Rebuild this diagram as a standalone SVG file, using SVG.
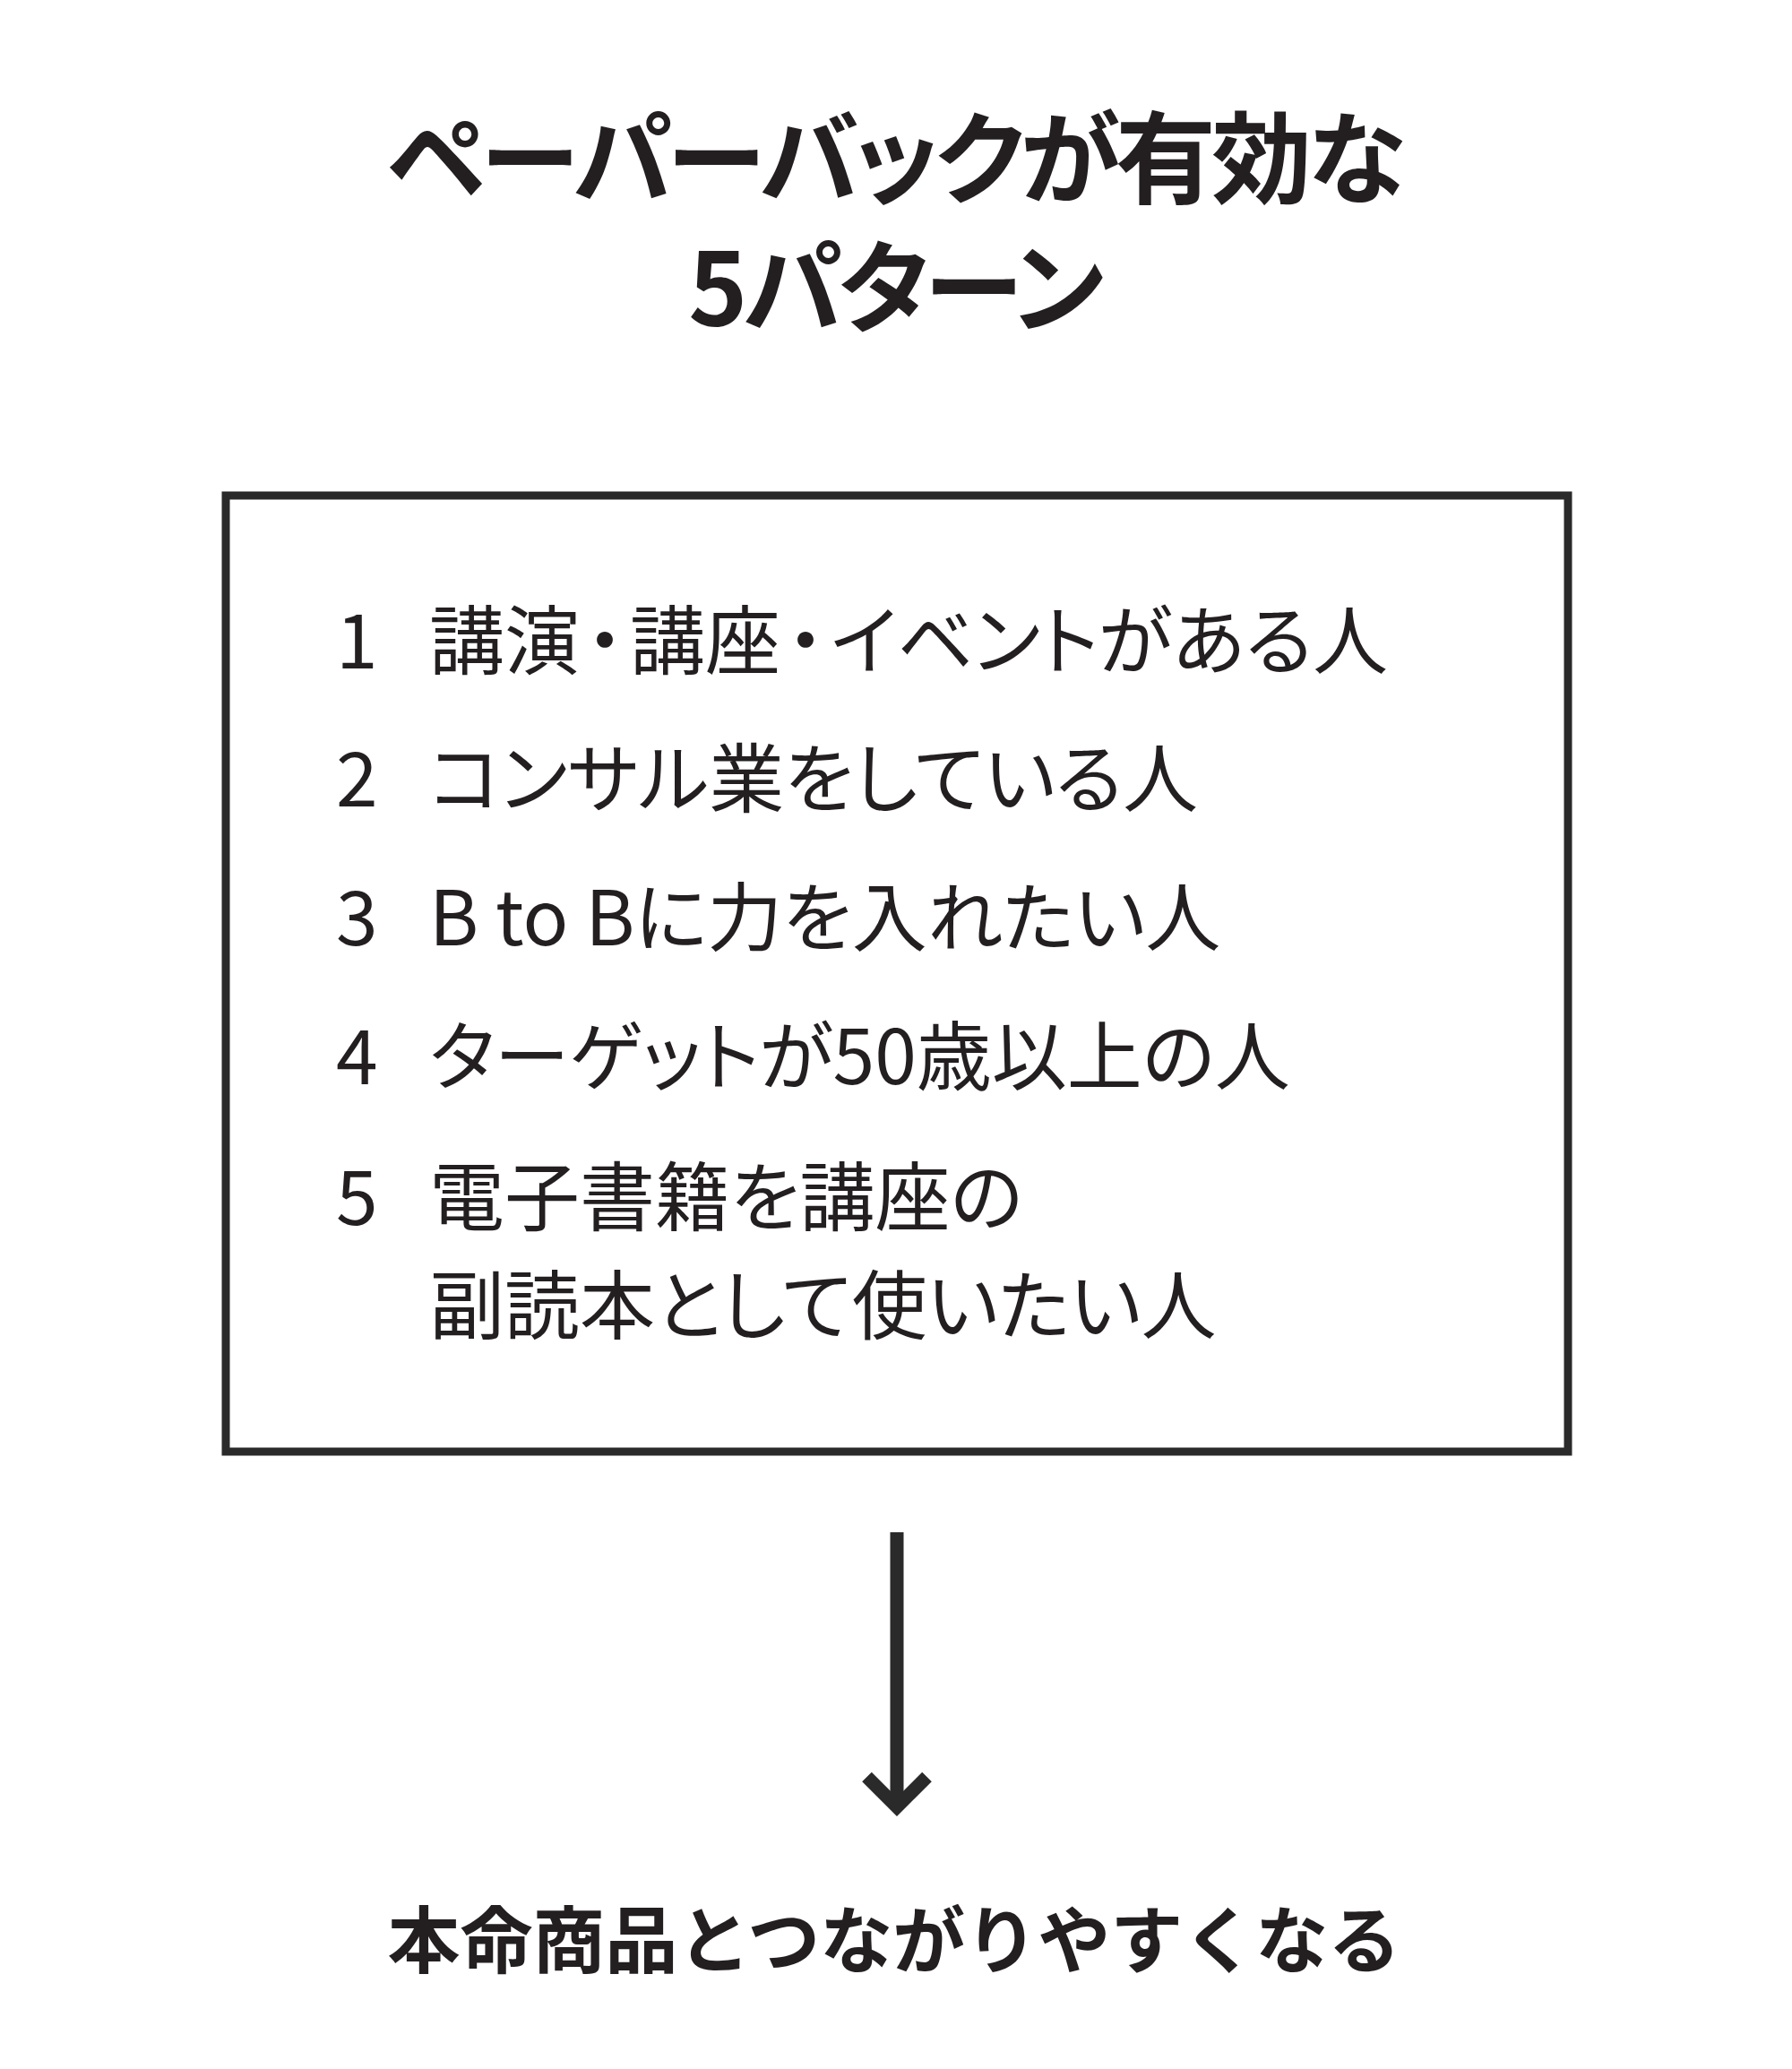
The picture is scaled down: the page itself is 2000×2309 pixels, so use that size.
<svg xmlns="http://www.w3.org/2000/svg" width="2000" height="2309" viewBox="0 0 2000 2309">
<style>
text { fill: #231f20; font-family: "Noto Sans CJK JP", "Noto Sans", sans-serif; }
.title { font-size: 112px; font-weight: 700; text-anchor: middle; font-feature-settings: "palt"; letter-spacing: -5px; }
.item { font-size: 84px; font-weight: 400; font-feature-settings: "palt"; }
.result { font-size: 81px; font-weight: 700; text-anchor: middle; }
.frame { fill: none; stroke: #2a2a2a; stroke-width: 9; }
.conn { fill: none; stroke: #2a2a2a; stroke-width: 15; stroke-linejoin: miter; stroke-linecap: butt; }
</style>
<rect width="2000" height="2309" fill="#ffffff"/>
<g id="title">
  <text class="title" x="998" y="219">ペーパーバックが有効な</text>
  <text class="title" x="998" y="363">5パターン</text>
</g>
<g id="patterns">
  <rect class="frame" x="252" y="553" width="1498" height="1067"/>
  <text class="item" x="375" y="746">1</text>
  <text class="item" x="479" y="746">講演<tspan dx="7">・</tspan><tspan dx="7">講座</tspan><tspan dx="7">・</tspan><tspan dx="7">イベントがある人</tspan></text>
  <text class="item" x="375" y="900">2</text>
  <text class="item" x="479" y="900">コンサル業をしている人</text>
  <text class="item" x="375" y="1055">3</text>
  <text class="item" x="479" y="1055">B to Bに力を入れたい人</text>
  <text class="item" x="375" y="1210">4</text>
  <text class="item" x="479" y="1210">ターゲットが50歳以上の人</text>
  <text class="item" x="375" y="1367">5</text>
  <text class="item" x="479" y="1367">電子書籍を講座の</text>
  <text class="item" x="479" y="1488">副読本として使いたい人</text>
</g>
<g id="connectors">
  <path class="conn" d="M1001 1710 L1001 2012"/>
  <path class="conn" d="M967.5 1983 L1001 2016.5 L1034.5 1983"/>
</g>
<g id="result">
  <text class="result" x="998" y="2195">本命商品とつながりやすくなる</text>
</g>
</svg>
